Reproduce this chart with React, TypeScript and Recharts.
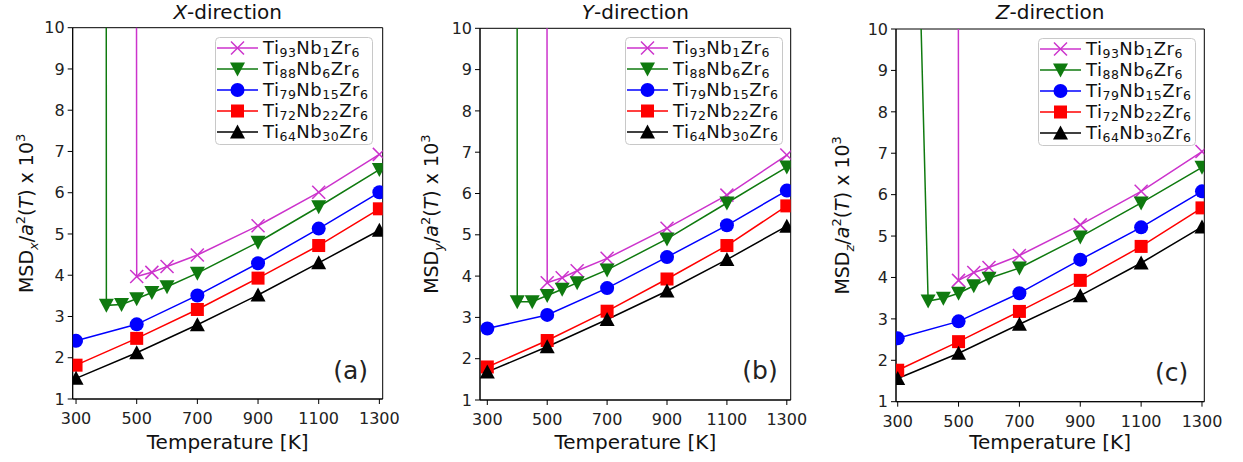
import { LineChart, Line, XAxis, YAxis, ReferenceArea } from "recharts";

// temperatures (K)
const T_TI93 = [300, 500, 550, 600, 700, 900, 1100, 1300];
const T_TI88 = [300, 400, 450, 500, 550, 600, 700, 900, 1100, 1300];
const T_MAIN = [300, 500, 700, 900, 1100, 1300];

const X_TICKS = [300, 500, 700, 900, 1100, 1300];
const Y_TICKS = [1, 2, 3, 4, 5, 6, 7, 8, 9, 10];

// X-direction
const X_TI93 = [2000, 3.97, 4.07, 4.21, 4.49, 5.2, 6.01, 6.93];
const X_TI88 = [2000, 3.27, 3.29, 3.43, 3.58, 3.72, 4.05, 4.8, 5.66, 6.56];
const X_TI79 = [2.41, 2.81, 3.51, 4.29, 5.13, 6.01];
const X_TI72 = [1.82, 2.47, 3.17, 3.93, 4.72, 5.61];
const X_TI64 = [1.5, 2.12, 2.8, 3.52, 4.3, 5.09];

// Y-direction
const Y_TI93 = [2000, 3.84, 3.96, 4.13, 4.43, 5.16, 5.96, 6.93];
const Y_TI88 = [2000, 3.38, 3.38, 3.53, 3.68, 3.84, 4.15, 4.9, 5.77, 6.64];
const Y_TI79 = [2.73, 3.06, 3.71, 4.46, 5.23, 6.07];
const Y_TI72 = [1.8, 2.44, 3.15, 3.93, 4.74, 5.7];
const Y_TI64 = [1.68, 2.29, 2.95, 3.64, 4.4, 5.21];

// Z-direction
const Z_TI93 = [2000, 3.93, 4.12, 4.24, 4.53, 5.27, 6.08, 7.04];
const Z_TI88 = [32, 3.43, 3.5, 3.62, 3.8, 3.98, 4.23, 4.98, 5.8, 6.66];
const Z_TI79 = [2.53, 2.94, 3.62, 4.43, 5.21, 6.08];
const Z_TI72 = [1.76, 2.45, 3.18, 3.93, 4.75, 5.68];
const Z_TI64 = [1.56, 2.17, 2.87, 3.56, 4.35, 5.22];

// legend names: [Ti, Nb, Zr] subscripts
const NAMES = [
  ["93", "1", "6"],
  ["88", "6", "6"],
  ["79", "15", "6"],
  ["72", "22", "6"],
  ["64", "30", "6"],
];

const SERIES = [
  { color: "#cc33cc", marker: "x", temps: T_TI93 },
  { color: "#0f7a0f", marker: "v", temps: T_TI88 },
  { color: "#0000ff", marker: "o", temps: T_MAIN },
  { color: "#ff0000", marker: "s", temps: T_MAIN },
  { color: "#000000", marker: "^", temps: T_MAIN },
];

const FONT = "'DejaVu Sans', sans-serif";

const zip = (ts: number[], vs: number[]) => ts.map((T, i) => ({ T, v: vs[i] }));

function Marker({ shape, color, cx, cy }: { shape: string; color: string; cx: number; cy: number }) {
  if (cx == null || cy == null) return null;
  if (shape === "x") {
    const s = 6.5;
    return (
      <g stroke={color} strokeWidth={1.5}>
        <line x1={cx - s} y1={cy - s} x2={cx + s} y2={cy + s} />
        <line x1={cx - s} y1={cy + s} x2={cx + s} y2={cy - s} />
      </g>
    );
  }
  if (shape === "v")
    return <polygon points={`${cx - 7.5},${cy - 6.5} ${cx + 7.5},${cy - 6.5} ${cx},${cy + 7.5}`} fill={color} />;
  if (shape === "^")
    return <polygon points={`${cx - 7.5},${cy + 6.5} ${cx + 7.5},${cy + 6.5} ${cx},${cy - 7.5}`} fill={color} />;
  if (shape === "s") return <rect x={cx - 6.5} y={cy - 6.5} width={13} height={13} fill={color} />;
  return <circle cx={cx} cy={cy} r={7} fill={color} />;
}

const PANELS = [
  {
    axis: "X", tag: "(a)", left: 0, width: 405, plotL: 72.7, plotR: 382.7, top: 27.7, bottom: 399,
    domain: [289, 1311], legendL: 215, legendT: 37, yLabelX: 26, tagX: 350.7, tagY: 370,
    values: [X_TI93, X_TI88, X_TI79, X_TI72, X_TI64],
  },
  {
    axis: "Y", tag: "(b)", left: 405, width: 410, plotL: 480, plotR: 790.7, top: 28.3, bottom: 400,
    domain: [275.6, 1313], legendL: 625, legendT: 37, yLabelX: 431, tagX: 760, tagY: 370,
    values: [Y_TI93, Y_TI88, Y_TI79, Y_TI72, Y_TI64],
  },
  {
    axis: "Z", tag: "(c)", left: 815, width: 428, plotL: 896, plotR: 1204.3, top: 29, bottom: 401.7,
    domain: [294.4, 1307.6], legendL: 1038, legendT: 38, yLabelX: 842, tagX: 1171.7, tagY: 372,
    values: [Z_TI93, Z_TI88, Z_TI79, Z_TI72, Z_TI64],
  },
];

function Legend({ left, top }: { left: number; top: number }) {
  return (
    <svg
      width={158}
      height={108}
      style={{ position: "absolute", left, top }}
      fontFamily={FONT}
    >
      <rect x={0.5} y={0.5} width={157} height={107} rx={4} fill="#fff" fillOpacity={0.85} stroke="#c8c8c8" />
      {SERIES.map((s, i) => {
        const y = 11 + i * 21;
        return (
          <g key={i}>
            <line x1={2} y1={y} x2={43} y2={y} stroke={s.color} strokeWidth={1.5} />
            <Marker shape={s.marker} color={s.color} cx={22.5} cy={y} />
            <text x={48} y={y + 6} fontSize={18} fill="#111" letterSpacing={0.5}>
              Ti<tspan dy={2.5} fontSize={12.5}>{NAMES[i][0]}</tspan>
              <tspan dy={-2.5}>Nb</tspan>
              <tspan dy={2.5} fontSize={12.5}>{NAMES[i][1]}</tspan>
              <tspan dy={-2.5}>Zr</tspan>
              <tspan dy={2.5} fontSize={12.5}>{NAMES[i][2]}</tspan>
            </text>
          </g>
        );
      })}
    </svg>
  );
}

function Panel({ p }: { p: (typeof PANELS)[number] }) {
  const plotL = p.plotL - p.left;
  const plotR = p.plotR - p.left;
  const cx = (plotL + plotR) / 2;
  const cy = (p.top + p.bottom) / 2;
  const sub = p.axis.toLowerCase();
  return (
    <div style={{ position: "absolute", left: p.left, top: 0, width: p.width, height: 462 }}>
      <LineChart
        width={p.width}
        height={462}
        margin={{ top: p.top, right: p.width - plotR, bottom: 0, left: 0 }}
      >
        <XAxis
          type="number"
          dataKey="T"
          domain={p.domain}
          ticks={X_TICKS}
          allowDataOverflow
          height={462 - p.bottom}
          stroke="#000"
          tickSize={5}
          tickMargin={9}
          tick={{ fill: "#222", fontSize: 16, fontFamily: FONT }}
        />
        <YAxis
          type="number"
          domain={[1, 10]}
          ticks={Y_TICKS}
          allowDataOverflow
          width={plotL}
          stroke="#000"
          tickSize={5}
          tickMargin={3}
          tick={{ fill: "#222", fontSize: 16, fontFamily: FONT }}
        />
        <ReferenceArea x1={p.domain[0]} x2={p.domain[1]} y1={1} y2={10} fill="none" stroke="#000" strokeWidth={1} />
        {SERIES.map((s, i) => (
          <Line
            key={i}
            data={zip(s.temps, p.values[i])}
            dataKey="v"
            type="linear"
            stroke={s.color}
            strokeWidth={1.5}
            isAnimationActive={false}
            activeDot={false}
            dot={(d: any) => <Marker key={`d${i}-${d.index}`} shape={s.marker} color={s.color} cx={d.cx} cy={d.cy} />}
          />
        ))}
      </LineChart>
      <svg
        width={p.width}
        height={462}
        style={{ position: "absolute", left: 0, top: 0, pointerEvents: "none" }}
        fontFamily={FONT}
      >
        <text x={cx} y={19} textAnchor="middle" fontSize={20} fill="#111">
          <tspan fontStyle="italic">{p.axis}</tspan>-direction
        </text>
        <text x={cx} y={449} textAnchor="middle" fontSize={20} fill="#111">
          Temperature [K]
        </text>
        <text
          transform={`translate(${p.yLabelX - p.left + 7},${cy}) rotate(-90)`}
          textAnchor="middle"
          fontSize={19}
          fill="#111"
        >
          MSD<tspan dy={5} fontSize={13} fontStyle="italic">{sub}</tspan>
          <tspan dy={-5}>/</tspan>
          <tspan fontStyle="italic">a</tspan>
          <tspan dy={-8} fontSize={13}>2</tspan>
          <tspan dy={8}>(</tspan>
          <tspan fontStyle="italic">T</tspan>
          <tspan>) x 10</tspan>
          <tspan dy={-8} fontSize={13}>3</tspan>
        </text>
        <text x={p.tagX - p.left} y={p.tagY + 9} textAnchor="middle" fontSize={25} fill="#222">
          {p.tag}
        </text>
      </svg>
      <Legend left={p.legendL - p.left} top={p.legendT} />
    </div>
  );
}

export default function App() {
  return (
    <div style={{ position: "absolute", left: 0, top: 0, width: 1243, height: 462, background: "#fff" }}>
      {PANELS.map((p) => (
        <Panel key={p.axis} p={p} />
      ))}
    </div>
  );
}
